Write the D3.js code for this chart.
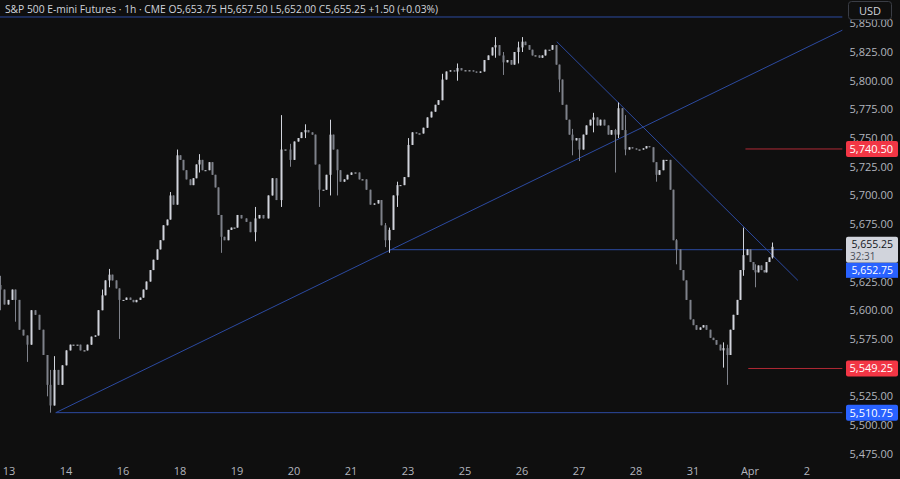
<!DOCTYPE html>
<html>
<head>
<meta charset="utf-8">
<script src="https://cdn.jsdelivr.net/npm/d3@7"></script>
<style>
  body { margin:0; background:#0f0f0f; }
  text { font-family: "Open Sans", "DejaVu Sans", sans-serif; }
</style>
</head>
<body>
<svg id="chart" width="900" height="479"></svg>
<script>
// day labels under each session start
var dayLabels = ["13","14","16","18","19","20","21","23","25","26","27","28","31","Apr","2"];
// where each session's candles begin (session units), first one starts a bit earlier
var sessionStarts = [-0.16,1,2,3,4,5,6,7,8,9,10,11,12,13];
var sessionEnds   = [1,2,3,4,5,6,7,8,9,10,11,12,13,13.45];

// closes, 2h-ish bars, one list per session
var closes = [
  [5618,5605,5609,5618,5609,5583,5578,5570,5600,5596,5583,5561,5535,5517,5548,5535,5552],
  [5565,5570,5570,5570,5565,5565,5570,5577,5578,5600,5613,5626,5631,5626,5619,5609],
  [5609,5611,5609,5607,5609,5611,5618,5625,5635,5644,5653,5661,5674,5679,5700,5692,5735],
  [5731,5722,5714,5709,5715,5727,5731,5722,5722,5729,5718,5707,5683,5664,5661,5670,5672,5672],
  [5683,5680,5677,5668,5680,5683,5680,5700,5715,5696,5740,5740,5731],
  [5747,5750,5755,5757,5755,5753,5727,5705,5705,5718,5753,5740,5722,5712,5714,5718],
  [5720,5720,5714,5714,5705,5692,5693,5696,5674,5661,5670,5700,5709,5709,5716],
  [5744,5755,5754,5754,5759,5768,5773,5779,5783,5801,5808,5809,5808,5811,5809],
  [5809,5809,5808,5807,5808,5818,5822,5829,5831,5822,5816,5818,5814,5825,5829],
  [5834,5831,5827,5822,5822,5820,5822,5827,5827,5831,5814,5801,5779,5766,5753,5748,5750],
  [5740,5753,5761,5766,5768,5761,5766,5761,5753,5757,5753,5776,5757,5740,5742,5741],
  [5740,5740,5741,5743,5742,5729,5718,5722,5731,5731,5705,5661,5653,5635,5626,5609,5592],
  [5587,5583,5585,5587,5583,5576,5574,5570,5565,5567,5561,5583,5596,5609,5635,5648,5653],
  [5642,5635,5633,5639,5635,5633,5642,5646,5655.25]
];
var firstOpen = 5622;

// notable wicks: [session, bar, high, low]
var wicks = [
  [0,0,5630,5600],[0,4,5615,5590],[0,7,5575,5555],[0,12,5545,5525],[0,13,5548,5510.75],[0,14,5560,5530],
  [1,10,5618,5600],[1,12,5636,5620],[1,15,5612,5575],
  [2,14,5703,5680],[2,16,5740,5725],
  [3,6,5736,5720],[3,13,5668,5650],
  [4,4,5690,5660],[4,10,5770,5690],[4,12,5745,5725],
  [5,3,5762,5750],[5,7,5710,5690],[5,10,5766,5700],[5,12,5730,5700],
  [6,9,5676,5655],[6,10,5672,5650],[6,12,5712,5690],
  [7,0,5750,5720],[7,9,5806,5785],[7,13,5815,5800],
  [8,8,5838,5820],[8,10,5825,5805],[8,14,5834,5815],
  [9,0,5838,5825],[9,11,5806,5790],[9,15,5758,5735],
  [10,0,5745,5730],[10,4,5772,5755],[10,10,5758,5720],[10,11,5781,5750],[10,13,5770,5735],
  [11,6,5725,5712],[11,12,5662,5640],
  [12,10,5570,5535],[12,9,5572,5550],[12,15,5672,5630],
  [13,2,5640,5620],[13,8,5659,5645]
];

// 5,650 sits under the last-price box, so it is left out
var yTicks = [5475,5500,5525,5550,5575,5600,5625,5675,5700,5725,5750,5775,5800,5825,5850];

var svg = d3.select("#chart");
var W = 900, H = 479;

svg.append("rect").attr("width",W).attr("height",H).attr("fill","#0f0f0f");

var x = d3.scaleLinear().domain([0,14]).range([9,807]);
var y = d3.scaleLinear().domain([5475,5825]).range([453.7,52]);

// build candles
var candles = [];
var prev = firstOpen;
closes.forEach(function(list,k)
{
  list.forEach(function(c,j)
  {
    var t = sessionStarts[k] + j*(sessionEnds[k]-sessionStarts[k])/(k==closes.length-1 ? 9.5 : list.length);
    candles.push({k:k,j:j,t:t,o:prev,c:c,h:Math.max(prev,c),l:Math.min(prev,c)});
    prev = c;
  });
});
wicks.forEach(function(w)
{
  var d = candles.find(function(c){return c.k==w[0] && c.j==w[1];});
  if (d) { d.h = Math.max(d.h,w[2]); d.l = Math.min(d.l,w[3]); }
});

var blue = "#2c4aa0";
var lines = svg.append("g");
var seg = function(t1,p1,t2,p2,col)
{
  lines.append("line")
    .attr("x1",x(t1)).attr("y1",y(p1))
    .attr("x2",x(t2)).attr("y2",y(p2))
    .attr("stroke",col).attr("stroke-width",1);
};
seg(-0.2,5855.5,14.62,5855.5,blue);
seg(0.82,5510.75,14.62,5510.75,blue);
seg(0.82,5510.75,14.62,5844,blue);
seg(6.68,5652.75,14.62,5652.75,blue);
seg(9.61,5834,13.84,5626,blue);
seg(12.92,5740.5,14.62,5740.5,"#b02a35");
seg(12.97,5549.25,14.62,5549.25,"#b02a35");

// candles
var g = svg.append("g");
g.selectAll("line.wick").data(candles).enter().append("line")
  .attr("x1",function(d){return Math.round(x(d.t))+0.5;})
  .attr("x2",function(d){return Math.round(x(d.t))+0.5;})
  .attr("y1",function(d){return y(d.h);})
  .attr("y2",function(d){return y(d.l);})
  .attr("stroke",function(d){return d.c>=d.o ? "#d1d4dc" : "#7e818a";});
g.selectAll("rect").data(candles).enter().append("rect")
  .attr("x",function(d){return Math.round(x(d.t))-0.5;})
  .attr("width",2)
  .attr("y",function(d){return y(Math.max(d.o,d.c));})
  .attr("height",function(d){return Math.max(1,Math.abs(y(d.o)-y(d.c)));})
  .attr("fill",function(d){return d.c>=d.o ? "#d1d4dc" : "#7e818a";});

// price axis
var fmt = d3.format(",.2f");
svg.append("g").selectAll("text").data(yTicks).enter().append("text")
  .attr("x",893).attr("y",function(d){return y(d)+4;})
  .attr("text-anchor","end").attr("font-size",11).attr("fill","#b2b5be")
  .text(function(d){return fmt(d);});

// time axis
svg.append("g").selectAll("text").data(dayLabels).enter().append("text")
  .attr("x",function(d,i){return x(i);}).attr("y",475)
  .attr("text-anchor","middle").attr("font-size",11).attr("fill","#b2b5be")
  .text(function(d){return d;});

// price tags
var tags = [
  {p:5740.5, bg:"#f23645", fg:"#ffffff"},
  {p:5549.25, bg:"#f23645", fg:"#ffffff"},
  {p:5510.75, bg:"#2962ff", fg:"#ffffff"}
];
var tag = svg.append("g");
tags.forEach(function(d)
{
  tag.append("rect").attr("x",846).attr("y",y(d.p)-8).attr("width",52).attr("height",16).attr("rx",2).attr("fill",d.bg);
  tag.append("text").attr("x",893).attr("y",y(d.p)+4).attr("text-anchor","end").attr("font-size",11).attr("fill",d.fg).text(fmt(d.p));
});
// last price box with countdown, then the blue level under it
var ly = y(5655.25);
tag.append("rect").attr("x",846).attr("y",ly-10).attr("width",52).attr("height",26).attr("rx",2).attr("fill","#d1d4dc");
tag.append("text").attr("x",893).attr("y",ly+1).attr("text-anchor","end").attr("font-size",10.5).attr("fill","#131722").text(fmt(5655.25));
tag.append("text").attr("x",850).attr("y",ly+13).attr("font-size",10).attr("fill","#4a4e59").text("32:31");
tag.append("rect").attr("x",846).attr("y",ly+16).attr("width",52).attr("height",15).attr("fill","#2962ff");
tag.append("text").attr("x",893).attr("y",ly+27).attr("text-anchor","end").attr("font-size",10.5).attr("fill","#ffffff").text(fmt(5652.75));

// currency box
svg.append("rect").attr("x",848.5).attr("y",1.5).attr("width",43).attr("height",18).attr("rx",3)
  .attr("fill","#0f0f0f").attr("stroke","#3a3d45");
svg.append("text").attr("x",870).attr("y",14.5).attr("text-anchor","middle").attr("font-size",11).attr("fill","#d1d4dc").text("USD");

// header
svg.append("text").attr("x",5).attr("y",12.5).attr("font-size",11).attr("fill","#d1d4dc")
  .attr("textLength",433).attr("lengthAdjust","spacingAndGlyphs")
  .text("S&P 500 E-mini Futures · 1h · CME O5,653.75 H5,657.50 L5,652.00 C5,655.25 +1.50 (+0.03%)");
</script>
</body>
</html>
